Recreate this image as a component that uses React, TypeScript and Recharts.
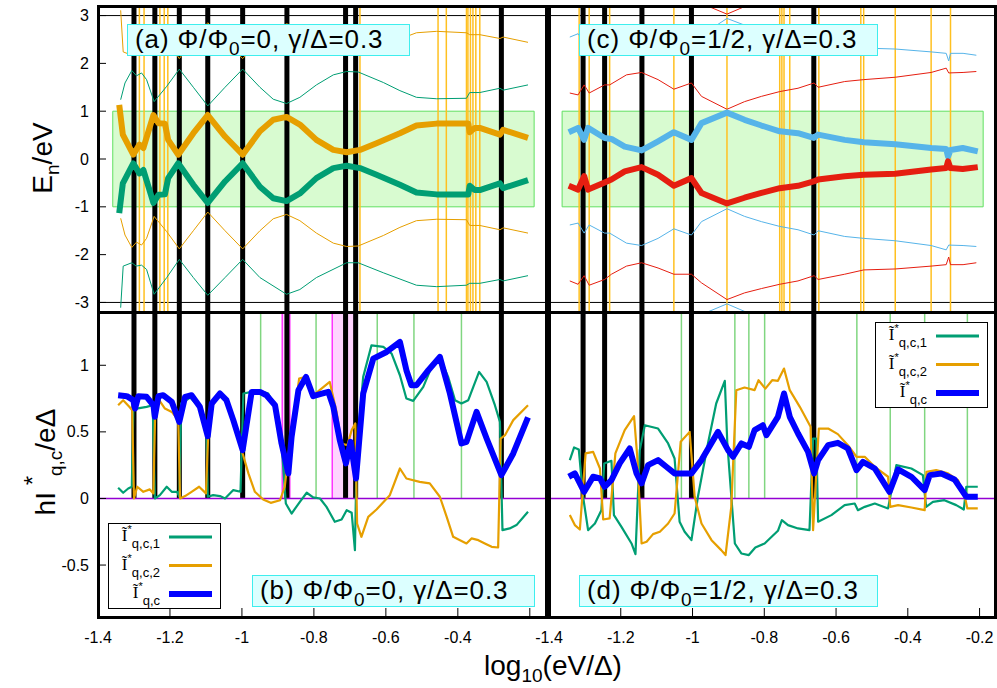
import React from 'react';
import { ComposedChart, Line, XAxis, YAxis, ReferenceLine, ReferenceArea } from 'recharts';

type P = [number, number];

const FONT = '"Liberation Sans", Arial, Helvetica, sans-serif';
const SERIF = '"Liberation Serif", "DejaVu Serif", serif';

const GREEN = '#009E73';
const ORANGE = '#E69F00';
const SKY = '#56B4E9';
const RED = '#E51E10';
const BLUE = '#0000FF';
const V_ORANGE = '#FFC020';
const V_GREEN = '#80D680';
const MAGENTA = '#FF33FF';
const PINK = '#FFD4FF';
const ZERO = '#9400D3';

// axes
const X_TICKS = [-1.4, -1.2, -1, -0.8, -0.6, -0.4, -0.2];
const E_TICKS = [3, 2, 1, 0, -1, -2, -3];
const I_TICKS = [1, 0.5, 0, -0.5];
const X_DOM_L = [-1.4, -0.155];
const X_DOM_R = [-1.4, -0.157];
const E_DOM = [-3.2, 3.2];
const I_DOM = [-0.89, 1.4];

// vertical markers, left column (a)/(b)
const L_BLACK = [-1.3, -1.242, -1.174, -1.095, -0.998, -0.875, -0.712, -0.684, -0.279];
const L_ORANGE_V = [-1.285, -1.272, -1.228, -1.216, -1.206, -0.672, -0.455, -0.432, -0.376, -0.372, -0.365, -0.358, -0.35, -0.339];
const L_GREEN_V = [-0.948, -0.794, -0.624, -0.522, -0.39];
const L_MAGENTA_V = [-0.888, -0.867, -0.749];
const L_PINK: P[] = [[-0.888, -0.867], [-0.749, -0.679]];
const L_GAP: P = [-1.359, -0.188];

// vertical markers, right column (c)/(d)
const R_BLACK = [-1.305, -1.245, -1.141, -1.003, -0.662];
const R_ORANGE_V = [-1.316, -1.288, -1.231, -1.052, -0.904, -0.757, -0.751, -0.745, -0.729, -0.648, -0.531, -0.523, -0.435, -0.335, -0.281];
const R_GREEN_V = [-1.031, -0.882, -0.843, -0.799, -0.542, -0.449, -0.353, -0.234];
const R_GAP: P = [-1.3635, -0.19];

// (a) Phi=0 spectrum
const A_ORANGE: P[] = [[-1.341,1.13],[-1.331,0.51],[-1.302,0.09],[-1.285,0.3],[-1.274,0.23],[-1.246,0.92],[-1.232,0.75],[-1.214,0.74],[-1.205,0.4],[-1.177,0.09],[-1.135,0.54],[-1.095,0.92],[-1.047,0.47],[-0.998,0.09],[-0.95,0.58],[-0.913,0.82],[-0.876,0.88],[-0.839,0.72],[-0.793,0.4],[-0.746,0.19],[-0.709,0.14],[-0.672,0.19],[-0.626,0.33],[-0.561,0.54],[-0.515,0.7],[-0.459,0.74],[-0.413,0.74],[-0.371,0.74],[-0.367,0.56],[-0.353,0.65],[-0.339,0.65],[-0.283,0.51],[-0.274,0.61],[-0.205,0.44]];
const A_GREEN: P[] = [[-1.341,-1.13],[-1.331,-0.51],[-1.302,-0.09],[-1.285,-0.3],[-1.274,-0.23],[-1.246,-0.92],[-1.232,-0.75],[-1.214,-0.74],[-1.205,-0.4],[-1.177,-0.09],[-1.135,-0.54],[-1.095,-0.92],[-1.047,-0.47],[-0.998,-0.09],[-0.95,-0.58],[-0.913,-0.82],[-0.876,-0.88],[-0.839,-0.72],[-0.793,-0.4],[-0.746,-0.19],[-0.709,-0.14],[-0.672,-0.19],[-0.626,-0.33],[-0.561,-0.54],[-0.515,-0.7],[-0.459,-0.74],[-0.413,-0.74],[-0.371,-0.74],[-0.367,-0.56],[-0.353,-0.65],[-0.339,-0.65],[-0.283,-0.51],[-0.274,-0.61],[-0.205,-0.44]];
const A_GREEN_T1: P[] = [[-1.337,1.24],[-1.325,1.59],[-1.306,1.85],[-1.293,1.74],[-1.279,1.8],[-1.265,1.66],[-1.244,1.2],[-1.209,1.52],[-1.174,1.88],[-1.135,1.5],[-1.095,1.11],[-1.047,1.5],[-0.998,1.88],[-0.95,1.5],[-0.913,1.25],[-0.876,1.16],[-0.839,1.29],[-0.793,1.55],[-0.746,1.76],[-0.709,1.83],[-0.677,1.82],[-0.607,1.6],[-0.561,1.43],[-0.515,1.29],[-0.459,1.26],[-0.376,1.27],[-0.367,1.39],[-0.339,1.39],[-0.283,1.48],[-0.274,1.44],[-0.205,1.55]];
const A_ORANGE_T1: P[] = [[-1.337,-1.24],[-1.325,-1.59],[-1.306,-1.85],[-1.293,-1.74],[-1.279,-1.8],[-1.265,-1.66],[-1.244,-1.2],[-1.209,-1.52],[-1.174,-1.88],[-1.135,-1.5],[-1.095,-1.11],[-1.047,-1.5],[-0.998,-1.88],[-0.95,-1.5],[-0.913,-1.25],[-0.876,-1.16],[-0.839,-1.29],[-0.793,-1.55],[-0.746,-1.76],[-0.709,-1.83],[-0.677,-1.82],[-0.607,-1.6],[-0.561,-1.43],[-0.515,-1.29],[-0.459,-1.26],[-0.376,-1.27],[-0.367,-1.39],[-0.339,-1.39],[-0.283,-1.48],[-0.274,-1.44],[-0.205,-1.55]];
const A_GREEN_T2: P[] = [[-1.337,-3.11],[-1.33,-2.24],[-1.306,-2.17],[-1.294,-2.24],[-1.279,-2.22],[-1.265,-2.31],[-1.244,-2.83],[-1.209,-2.48],[-1.174,-2.1],[-1.135,-2.48],[-1.095,-2.85],[-1.047,-2.48],[-0.998,-2.1],[-0.95,-2.48],[-0.876,-2.83],[-0.839,-2.73],[-0.793,-2.48],[-0.709,-2.17],[-0.677,-2.17],[-0.607,-2.38],[-0.515,-2.64],[-0.459,-2.67],[-0.376,-2.64],[-0.367,-2.6],[-0.339,-2.6],[-0.283,-2.52],[-0.274,-2.55],[-0.205,-2.44]];
const A_ORANGE_T2: P[] = [[-1.337,3.11],[-1.33,2.24],[-1.306,2.17],[-1.294,2.24],[-1.279,2.22],[-1.265,2.31],[-1.244,2.83],[-1.209,2.48],[-1.174,2.1],[-1.135,2.48],[-1.095,2.85],[-1.047,2.48],[-0.998,2.1],[-0.95,2.48],[-0.876,2.83],[-0.839,2.73],[-0.793,2.48],[-0.709,2.17],[-0.677,2.17],[-0.607,2.38],[-0.515,2.64],[-0.459,2.67],[-0.376,2.64],[-0.367,2.6],[-0.339,2.6],[-0.283,2.52],[-0.274,2.55],[-0.205,2.44]];

// (c) Phi=1/2 spectrum
const C_BLUE: P[] = [[-1.345,0.56],[-1.319,0.65],[-1.302,0.4],[-1.291,0.65],[-1.245,0.44],[-1.226,0.42],[-1.189,0.26],[-1.142,0.18],[-1.096,0.37],[-1.052,0.56],[-1.003,0.4],[-0.975,0.75],[-0.904,0.97],[-0.855,0.82],[-0.808,0.7],[-0.757,0.58],[-0.706,0.54],[-0.662,0.44],[-0.65,0.51],[-0.576,0.4],[-0.523,0.35],[-0.435,0.31],[-0.335,0.23],[-0.293,0.21],[-0.288,0.05],[-0.281,0.19],[-0.247,0.23],[-0.205,0.16]];
const C_RED: P[] = [[-1.345,-0.56],[-1.319,-0.64],[-1.302,-0.36],[-1.291,-0.64],[-1.245,-0.49],[-1.226,-0.43],[-1.189,-0.26],[-1.142,-0.17],[-1.096,-0.33],[-1.052,-0.56],[-1.003,-0.4],[-0.975,-0.71],[-0.904,-0.93],[-0.855,-0.81],[-0.808,-0.71],[-0.757,-0.61],[-0.706,-0.56],[-0.662,-0.47],[-0.65,-0.43],[-0.576,-0.36],[-0.523,-0.33],[-0.435,-0.31],[-0.335,-0.22],[-0.293,-0.19],[-0.288,-0.05],[-0.281,-0.19],[-0.247,-0.21],[-0.205,-0.17]];
const C_RED_T1: P[] = [[-1.342,1.38],[-1.319,1.34],[-1.302,1.55],[-1.288,1.38],[-1.245,1.55],[-1.231,1.55],[-1.184,1.76],[-1.142,1.81],[-1.096,1.66],[-1.052,1.46],[-1.003,1.59],[-0.975,1.31],[-0.904,1.04],[-0.855,1.2],[-0.808,1.31],[-0.757,1.41],[-0.706,1.48],[-0.661,1.59],[-0.65,1.5],[-0.576,1.62],[-0.523,1.66],[-0.435,1.71],[-0.335,1.81],[-0.293,1.9],[-0.286,1.8],[-0.246,1.81],[-0.209,1.83]];
const C_SKY_T1: P[] = [[-1.342,-1.38],[-1.319,-1.34],[-1.302,-1.55],[-1.288,-1.38],[-1.245,-1.55],[-1.231,-1.55],[-1.184,-1.76],[-1.142,-1.81],[-1.096,-1.66],[-1.052,-1.46],[-1.003,-1.59],[-0.975,-1.31],[-0.904,-1.04],[-0.855,-1.2],[-0.808,-1.31],[-0.757,-1.41],[-0.706,-1.48],[-0.661,-1.59],[-0.65,-1.5],[-0.576,-1.62],[-0.523,-1.66],[-0.435,-1.71],[-0.335,-1.81],[-0.293,-1.9],[-0.286,-1.8],[-0.246,-1.81],[-0.209,-1.83]];
const C_RED_T2: P[] = [[-1.342,-2.55],[-1.319,-2.62],[-1.302,-2.44],[-1.288,-2.64],[-1.245,-2.52],[-1.226,-2.41],[-1.184,-2.24],[-1.142,-2.17],[-1.096,-2.28],[-1.052,-2.41],[-1.003,-2.41],[-0.975,-2.59],[-0.904,-2.94],[-0.855,-2.8],[-0.808,-2.71],[-0.757,-2.62],[-0.706,-2.55],[-0.661,-2.44],[-0.65,-2.52],[-0.576,-2.41],[-0.523,-2.32],[-0.435,-2.3],[-0.335,-2.24],[-0.293,-2.21],[-0.286,-2.05],[-0.281,-2.21],[-0.246,-2.21],[-0.209,-2.17]];
const C_SKY_T2: P[] = [[-1.342,2.55],[-1.319,2.62],[-1.302,2.44],[-1.288,2.64],[-1.245,2.52],[-1.226,2.41],[-1.184,2.24],[-1.142,2.17],[-1.096,2.28],[-1.052,2.41],[-1.003,2.41],[-0.975,2.59],[-0.904,2.94],[-0.855,2.8],[-0.808,2.71],[-0.757,2.62],[-0.706,2.55],[-0.661,2.44],[-0.65,2.52],[-0.576,2.41],[-0.523,2.32],[-0.435,2.3],[-0.335,2.24],[-0.293,2.21],[-0.286,2.05],[-0.281,2.21],[-0.246,2.21],[-0.209,2.17]];
const C_RED_T3: P[] = [[-0.99,3.3],[-0.904,3.03],[-0.82,3.3]];
const C_SKY_T3: P[] = [[-0.99,-3.3],[-0.904,-3.03],[-0.82,-3.3]];

// (b) Phi=0 currents
const B_I1: P[] = [[-1.344,0.08],[-1.33,0.043],[-1.316,0.075],[-1.306,0.088],[-1.302,0.663],[-1.293,0.675],[-1.265,0.688],[-1.248,0.7],[-1.242,0],[-1.228,0.025],[-1.209,0.088],[-1.195,0.05],[-1.18,0.05],[-1.174,0.013],[-1.169,0.713],[-1.144,0.758],[-1.117,0.683],[-1.098,0.463],[-1.095,0.013],[-1.08,0.025],[-1.061,0.018],[-1.047,0],[-1.024,0.063],[-1.004,0.05],[-0.996,0.788],[-0.973,0.8],[-0.95,0.808],[-0.927,0.788],[-0.908,0.7],[-0.89,0.413],[-0.878,-0.038],[-0.862,-0.113],[-0.839,-0.025],[-0.82,0.043],[-0.802,0.008],[-0.783,0],[-0.765,-0.063],[-0.742,-0.175],[-0.723,-0.158],[-0.709,-0.088],[-0.695,-0.108],[-0.686,-0.388],[-0.681,0.363],[-0.663,0.913],[-0.64,1.15],[-0.607,1.138],[-0.584,1.088],[-0.561,0.925],[-0.543,0.75],[-0.524,0.733],[-0.496,0.838],[-0.469,1.013],[-0.45,1.063],[-0.427,0.913],[-0.408,0.738],[-0.39,0.713],[-0.371,0.738],[-0.357,0.838],[-0.341,0.95],[-0.32,0.875],[-0.297,0.7],[-0.283,0.575],[-0.276,-0.238],[-0.256,-0.225],[-0.237,-0.2],[-0.205,-0.1]];
const B_I2: P[] = [[-1.344,0.7],[-1.33,0.738],[-1.313,0.688],[-1.305,0.663],[-1.3,0],[-1.291,0.088],[-1.274,0.05],[-1.256,0.068],[-1.246,0.038],[-1.241,0.663],[-1.23,0.738],[-1.214,0.675],[-1.195,0.65],[-1.177,0.588],[-1.172,0],[-1.158,0.018],[-1.14,0.05],[-1.119,0.088],[-1.1,0.038],[-1.094,0.463],[-1.081,0.7],[-1.061,0.788],[-1.043,0.743],[-1.019,0.563],[-0.998,0.338],[-0.982,0.188],[-0.964,0.05],[-0.941,-0.008],[-0.92,-0.033],[-0.894,-0.013],[-0.881,0.088],[-0.867,0.413],[-0.853,0.663],[-0.841,0.9],[-0.822,0.913],[-0.802,0.775],[-0.779,0.825],[-0.756,0.875],[-0.737,0.65],[-0.723,0.413],[-0.707,0.4],[-0.695,0.513],[-0.685,0.563],[-0.68,-0.188],[-0.668,-0.288],[-0.649,-0.138],[-0.626,-0.083],[-0.589,0.025],[-0.561,0.225],[-0.543,0.15],[-0.506,0.125],[-0.478,0.113],[-0.45,0.013],[-0.431,-0.138],[-0.413,-0.288],[-0.394,-0.313],[-0.376,-0.338],[-0.362,-0.3],[-0.343,-0.313],[-0.325,-0.338],[-0.306,-0.363],[-0.288,-0.368],[-0.281,0.45],[-0.269,0.475],[-0.246,0.588],[-0.205,0.7]];
const B_IT: P[] = [[-1.344,0.775],[-1.32,0.768],[-1.302,0.738],[-1.297,0.675],[-1.288,0.768],[-1.265,0.763],[-1.246,0.7],[-1.242,0.613],[-1.232,0.768],[-1.219,0.775],[-1.195,0.725],[-1.174,0.575],[-1.158,0.763],[-1.14,0.775],[-1.117,0.688],[-1.095,0.468],[-1.084,0.713],[-1.061,0.788],[-1.043,0.738],[-1.024,0.588],[-0.998,0.363],[-0.973,0.8],[-0.95,0.8],[-0.932,0.775],[-0.908,0.7],[-0.89,0.413],[-0.871,0.188],[-0.862,0.463],[-0.843,0.813],[-0.822,0.913],[-0.802,0.768],[-0.783,0.783],[-0.76,0.8],[-0.746,0.688],[-0.728,0.438],[-0.711,0.263],[-0.698,0.425],[-0.683,0.15],[-0.663,0.788],[-0.635,1.05],[-0.598,1.1],[-0.561,1.175],[-0.543,0.963],[-0.529,0.85],[-0.515,0.85],[-0.482,0.963],[-0.45,1.063],[-0.422,0.788],[-0.39,0.413],[-0.376,0.425],[-0.348,0.65],[-0.32,0.45],[-0.279,0.175],[-0.246,0.338],[-0.205,0.608]];

// (d) Phi=1/2 currents
const D_I1: P[] = [[-1.342,0.288],[-1.33,0.383],[-1.317,0.368],[-1.305,0.013],[-1.291,-0.238],[-1.272,-0.188],[-1.254,-0.088],[-1.246,0.263],[-1.226,0.283],[-1.219,-0.125],[-1.198,-0.213],[-1.17,-0.338],[-1.159,-0.418],[-1.147,0.363],[-1.133,0.55],[-1.096,0.525],[-1.068,0.413],[-1.05,0.3],[-1.036,-0.175],[-1.022,-0.25],[-1.003,-0.313],[-0.985,0.013],[-0.957,0.413],[-0.934,0.713],[-0.91,0.883],[-0.903,0.413],[-0.882,-0.338],[-0.864,-0.413],[-0.843,-0.425],[-0.825,-0.368],[-0.799,-0.338],[-0.762,-0.243],[-0.751,-0.163],[-0.734,-0.2],[-0.706,-0.225],[-0.674,-0.238],[-0.664,0.45],[-0.655,0.45],[-0.65,-0.175],[-0.613,-0.125],[-0.576,-0.05],[-0.548,-0.038],[-0.539,-0.088],[-0.52,-0.063],[-0.492,-0.038],[-0.455,-0.075],[-0.432,0.25],[-0.39,0.225],[-0.358,0.175],[-0.349,-0.063],[-0.33,-0.025],[-0.298,-0.013],[-0.265,-0.05],[-0.244,-0.083],[-0.237,0.088],[-0.205,0.088]];
const D_I2: P[] = [[-1.342,-0.125],[-1.328,-0.2],[-1.314,-0.233],[-1.298,0.338],[-1.277,0.35],[-1.258,0.225],[-1.249,-0.158],[-1.231,-0.15],[-1.215,0.338],[-1.189,0.513],[-1.163,0.618],[-1.154,0.313],[-1.142,-0.338],[-1.128,-0.325],[-1.11,-0.268],[-1.091,-0.25],[-1.068,-0.188],[-1.05,-0.113],[-1.033,0.425],[-1.008,0.5],[-0.994,0.013],[-0.975,-0.188],[-0.947,-0.313],[-0.92,-0.388],[-0.908,-0.425],[-0.892,-0.063],[-0.878,0.813],[-0.855,0.833],[-0.827,0.813],[-0.816,0.888],[-0.797,0.825],[-0.778,0.888],[-0.762,0.883],[-0.745,0.975],[-0.729,0.813],[-0.701,0.688],[-0.671,0.538],[-0.664,-0.238],[-0.648,0.525],[-0.622,0.525],[-0.595,0.483],[-0.567,0.4],[-0.543,0.313],[-0.52,0.313],[-0.492,0.238],[-0.455,0.163],[-0.449,-0.063],[-0.427,-0.05],[-0.39,-0.068],[-0.353,-0.088],[-0.348,0.2],[-0.321,0.213],[-0.288,0.188],[-0.26,0.138],[-0.24,0],[-0.234,-0.075],[-0.205,-0.075]];
const D_IT: P[] = [[-1.345,0.163],[-1.328,0.188],[-1.302,0.05],[-1.277,0.163],[-1.258,0.15],[-1.245,0.088],[-1.226,0.138],[-1.203,0.263],[-1.175,0.375],[-1.156,0.188],[-1.142,0.113],[-1.124,0.25],[-1.096,0.288],[-1.073,0.238],[-1.05,0.188],[-1.003,0.188],[-0.975,0.288],[-0.929,0.5],[-0.901,0.363],[-0.887,0.313],[-0.864,0.413],[-0.843,0.388],[-0.827,0.513],[-0.804,0.55],[-0.794,0.475],[-0.762,0.613],[-0.745,0.788],[-0.729,0.613],[-0.706,0.488],[-0.678,0.35],[-0.661,0.188],[-0.65,0.288],[-0.622,0.4],[-0.595,0.418],[-0.567,0.375],[-0.543,0.213],[-0.525,0.275],[-0.492,0.225],[-0.451,0.05],[-0.427,0.218],[-0.39,0.163],[-0.353,0.063],[-0.339,0.175],[-0.307,0.188],[-0.27,0.143],[-0.237,0.013],[-0.205,0.013]];

const rows = (pts: P[]) => pts.map(([x, y]) => ({ x, y }));

const series = (key: string, pts: P[], color: string, w: number) => (
  <Line
    key={key}
    data={rows(pts)}
    dataKey="y"
    type="linear"
    stroke={color}
    strokeWidth={w}
    strokeLinejoin="round"
    dot={false}
    activeDot={false}
    isAnimationActive={false}
  />
);

const vFull = (key: string, xs: number[], color: string, w: number) =>
  xs.map((v, i) => <ReferenceLine key={key + i} x={v} stroke={color} strokeWidth={w} />);

const vUpper = (key: string, xs: number[], color: string, w: number, top: number) =>
  xs.map((v, i) => (
    <ReferenceLine key={key + i} segment={[{ x: v, y: 0 }, { x: v, y: top }]} stroke={color} strokeWidth={w} />
  ));

const xTick = (skip: number[]) => (props: any) => {
  const { x, y, payload } = props;
  if (skip.includes(payload.value)) return <g />;
  return (
    <text x={x} y={y + 17} textAnchor="middle" fontSize={16} fontFamily={FONT} fill="#000">
      {String(payload.value)}
    </text>
  );
};

const yTick = (props: any) => {
  const { x, y, payload } = props;
  return (
    <text x={x} y={y} dy={5.5} textAnchor="end" fontSize={16} fontFamily={FONT} fill="#000">
      {String(payload.value)}
    </text>
  );
};

function Panel(props: {
  l: number; t: number; w: number; h: number; wl: number; hb: number;
  xDom: number[]; yDom: number[]; yTicks: number[];
  yLabels: boolean; xLabels: boolean; xSkip: number[];
  children: React.ReactNode;
}) {
  const { l, t, w, h, wl, hb, xDom, yDom, yTicks, yLabels, xLabels, xSkip, children } = props;
  const tl = { stroke: '#000', strokeWidth: 1 };
  return (
    <div style={{ position: 'absolute', left: l - wl, top: t - 1 }}>
      <ComposedChart width={wl + w + 1} height={1 + h + hb} margin={{ top: 0, right: 0, bottom: 0, left: 0 }}>
        <XAxis xAxisId={0} dataKey="x" type="number" domain={xDom} ticks={X_TICKS} interval={0}
          allowDataOverflow orientation="bottom" height={hb} axisLine={false}
          tickSize={-9} tickMargin={18} tickLine={tl} tick={xLabels ? xTick(xSkip) : false} />
        <XAxis xAxisId="top" dataKey="x" type="number" domain={xDom} ticks={X_TICKS} interval={0}
          allowDataOverflow orientation="top" height={1} axisLine={false}
          tickSize={-9} tickLine={tl} tick={false} />
        <YAxis yAxisId={0} type="number" domain={yDom} ticks={yTicks} interval={0}
          allowDataOverflow orientation="left" width={wl} axisLine={false}
          tickSize={-8} tickMargin={17} tickLine={tl} tick={yLabels ? yTick : false} />
        <YAxis yAxisId="right" type="number" domain={yDom} ticks={yTicks} interval={0}
          allowDataOverflow orientation="right" width={1} axisLine={false}
          tickSize={-8} tickLine={tl} tick={false} />
        {children}
      </ComposedChart>
    </div>
  );
}

const Frame = ({ l, t, w, h }: { l: number; t: number; w: number; h: number }) => (
  <div style={{ position: 'absolute', left: l - 1.5, top: t - 1.5, width: w + 3, height: h + 3,
    border: '3px solid #000', boxSizing: 'border-box', pointerEvents: 'none' }} />
);

const Tag = ({ l, t, w, tag, flux }: { l: number; t: number; w: number; tag: string; flux: string }) => (
  <div style={{ position: 'absolute', left: l, top: t, width: w, height: 32, boxSizing: 'border-box',
    background: '#DCFFFF', border: '1.5px solid #3EEEEE', fontFamily: FONT, fontSize: 26,
    letterSpacing: 0.9, lineHeight: '29px', paddingLeft: 7, whiteSpace: 'nowrap', color: '#000' }}>
    ({tag}) Φ/Φ<span style={{ fontSize: 19, position: 'relative', top: 7 }}>0</span>={flux}, γ/Δ=0.3
  </div>
);

const LEGEND_ROWS = [
  { sub: 'q,c,1', color: GREEN, w: 3 },
  { sub: 'q,c,2', color: ORANGE, w: 3 },
  { sub: 'q,c', color: BLUE, w: 6 },
];

const CurrentLegend = ({ l, t }: { l: number; t: number }) => (
  <svg width={113} height={86} style={{ position: 'absolute', left: l, top: t, overflow: 'visible' }}>
    <rect x={0.5} y={0.5} width={112} height={85} fill="#fff" stroke="#000" strokeWidth={1} />
    {LEGEND_ROWS.map((r, i) => {
      const y = 14 + i * 28.5;
      return (
        <g key={r.sub}>
          <text x={52} y={y + 4} textAnchor="end" fill="#000">
            <tspan fontFamily={SERIF} fontSize={17}>Ĩ</tspan>
            <tspan fontFamily={FONT} fontSize={11} dy={-8}>*</tspan>
            <tspan fontFamily={FONT} fontSize={13} dy={15}>{r.sub}</tspan>
          </text>
          <line x1={61} x2={104} y1={y} y2={y} stroke={r.color} strokeWidth={r.w} />
        </g>
      );
    })}
  </svg>
);

export default function App() {
  const TL = { l: 98, t: 6, w: 448, h: 306 };
  const TR = { l: 549, t: 6, w: 446, h: 306 };
  const BL = { l: 98, t: 312, w: 448, h: 305 };
  const BR = { l: 549, t: 312, w: 446, h: 305 };
  const top = I_DOM[1];

  return (
    <div style={{ position: 'absolute', left: 0, top: 0, width: 997, height: 688, background: '#fff', overflow: 'hidden' }}>
      <Panel {...TL} wl={60} hb={1} xDom={X_DOM_L} yDom={E_DOM} yTicks={E_TICKS} yLabels xLabels={false} xSkip={[]}>
        {[
          <ReferenceArea key="gap" x1={L_GAP[0]} x2={L_GAP[1]} y1={-1} y2={1} fill="#D8FBD0" fillOpacity={1} stroke="#60E060" strokeWidth={1} />,
          <ReferenceLine key="p3" y={3} stroke="#000" strokeWidth={1} />,
          <ReferenceLine key="m3" y={-3} stroke="#000" strokeWidth={1} />,
          ...vFull('ao', L_ORANGE_V, V_ORANGE, 1.5),
          ...vFull('ab', L_BLACK, '#000', 5),
          series('a1', A_GREEN_T1, GREEN, 1),
          series('a2', A_ORANGE_T1, ORANGE, 1),
          series('a3', A_GREEN_T2, GREEN, 1),
          series('a4', A_ORANGE_T2, ORANGE, 1),
          series('a5', A_ORANGE, ORANGE, 6),
          series('a6', A_GREEN, GREEN, 6),
        ]}
      </Panel>
      <Panel {...TR} wl={24} hb={1} xDom={X_DOM_R} yDom={E_DOM} yTicks={E_TICKS} yLabels={false} xLabels={false} xSkip={[]}>
        {[
          <ReferenceArea key="gap" x1={R_GAP[0]} x2={R_GAP[1]} y1={-1} y2={1} fill="#D8FBD0" fillOpacity={1} stroke="#60E060" strokeWidth={1} />,
          <ReferenceLine key="p3" y={3} stroke="#000" strokeWidth={1} />,
          <ReferenceLine key="m3" y={-3} stroke="#000" strokeWidth={1} />,
          ...vFull('co', R_ORANGE_V, V_ORANGE, 1.5),
          ...vFull('cb', R_BLACK, '#000', 5),
          series('c1', C_RED_T1, RED, 1),
          series('c2', C_SKY_T1, SKY, 1),
          series('c3', C_RED_T2, RED, 1),
          series('c4', C_SKY_T2, SKY, 1),
          series('c5', C_RED_T3, RED, 1),
          series('c6', C_SKY_T3, SKY, 1),
          series('c7', C_BLUE, SKY, 6),
          series('c8', C_RED, RED, 6),
        ]}
      </Panel>
      <Panel {...BL} wl={60} hb={40} xDom={X_DOM_L} yDom={I_DOM} yTicks={I_TICKS} yLabels xLabels xSkip={[-0.2]}>
        {[
          ...L_PINK.map(([a, b], i) => (
            <ReferenceArea key={'pk' + i} x1={a} x2={b} y1={0} y2={top} fill={PINK} fillOpacity={1} stroke="none" />
          )),
          ...vUpper('bg', L_GREEN_V, V_GREEN, 1.5, top),
          ...vUpper('bm', L_MAGENTA_V, MAGENTA, 1.5, top),
          ...vUpper('bb', L_BLACK, '#000', 5, top),
          <ReferenceLine key="zero" y={0} stroke={ZERO} strokeWidth={1.5} />,
          series('b1', B_I1, GREEN, 2.2),
          series('b2', B_I2, ORANGE, 2.2),
          series('b3', B_IT, BLUE, 6),
        ]}
      </Panel>
      <Panel {...BR} wl={24} hb={40} xDom={X_DOM_R} yDom={I_DOM} yTicks={I_TICKS} yLabels={false} xLabels xSkip={[]}>
        {[
          ...vUpper('dg', R_GREEN_V, V_GREEN, 1.5, top),
          ...vUpper('db', R_BLACK, '#000', 5, top),
          <ReferenceLine key="zero" y={0} stroke={ZERO} strokeWidth={1.5} />,
          series('d1', D_I1, GREEN, 2.2),
          series('d2', D_I2, ORANGE, 2.2),
          series('d3', D_IT, BLUE, 6),
        ]}
      </Panel>

      <Frame {...TL} />
      <Frame {...TR} />
      <Frame {...BL} />
      <Frame {...BR} />

      <Tag l={127} t={24} w={283} tag="a" flux="0" />
      <Tag l={579} t={24} w={299} tag="c" flux="1/2" />
      <Tag l={252} t={575} w={283} tag="b" flux="0" />
      <Tag l={579} t={575} w={299} tag="d" flux="1/2" />

      <CurrentLegend l={108} t={523} />
      <CurrentLegend l={875} t={322} />

      <svg width={997} height={688} style={{ position: 'absolute', left: 0, top: 0, pointerEvents: 'none' }}>
        <text transform="translate(52,158) rotate(-90)" textAnchor="middle" fontFamily={FONT} fontSize={28} fill="#000">
          E<tspan fontSize={19} dy={7}>n</tspan><tspan dy={-7}>/eV</tspan>
        </text>
        <text transform="translate(55,462) rotate(-90)" textAnchor="middle" fontFamily={FONT} fontSize={28} fill="#000">
          hI<tspan fontSize={24} dy={-14}> *</tspan><tspan fontSize={19} dy={21}>q,c</tspan><tspan dy={-7}>/eΔ</tspan>
        </text>
        <text x={553} y={675} textAnchor="middle" fontFamily={FONT} fontSize={28} fill="#000">
          log<tspan fontSize={19} dy={7}>10</tspan><tspan dy={-7}>(eV/Δ)</tspan>
        </text>
      </svg>
    </div>
  );
}
